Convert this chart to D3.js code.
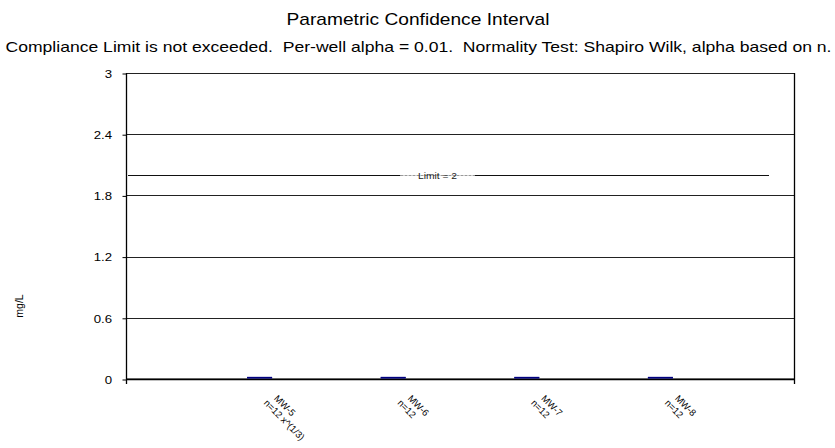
<!DOCTYPE html>
<html>
<head>
<meta charset="utf-8">
<script src="https://cdn.jsdelivr.net/npm/d3@7/dist/d3.min.js"></script>
<style>
  html, body { margin: 0; padding: 0; background: #fff; }
  svg { display: block; font-family: "Liberation Sans", Arial, sans-serif; }
</style>
</head>
<body>
<svg id="chart" width="835" height="448"></svg>
<script>
// ---- data ----
const titleText = "Parametric Confidence Interval";
const subtitleText = "Compliance Limit is not exceeded.  Per-well alpha = 0.01.  Normality Test: Shapiro Wilk, alpha based on n.";
const yAxisTitle = "mg/L";
const wells = ["MW-5", "MW-6", "MW-7", "MW-8"];
const wellNotes = ["n=12 x^(1/3)", "n=12", "n=12", "n=12"];
const wellPositions = [1, 2, 3, 4];
const upperLimits = [0.01, 0.01, 0.01, 0.01];
const lowerLimits = [0.006, 0.006, 0.006, 0.006];
const yTicks = [0, 0.6, 1.2, 1.8, 2.4, 3];
const limitValue = 2;
const limitLabel = "Limit = 2";

(function () {
// ---- layout ----
const svg = d3.select("#chart");
const pLeft = 126, pRight = 794, pTop = 73, pBottom = 379;
const x = d3.scaleLinear().domain([0, 5]).range([pLeft, pRight]);
const y = d3.scaleLinear().domain([0, 3]).range([pBottom, pTop]);
const stretch = 1.12;

// titles
svg.append("text")
  .attr("x", 418).attr("y", 25)
  .attr("text-anchor", "middle")
  .attr("font-size", 17)
  .attr("textLength", 263).attr("lengthAdjust", "spacingAndGlyphs")
  .text(titleText);
svg.append("text")
  .attr("x", 418.5).attr("y", 52)
  .attr("text-anchor", "middle")
  .attr("font-size", 15)
  .style("white-space", "pre")
  .attr("textLength", 826).attr("lengthAdjust", "spacingAndGlyphs")
  .text(subtitleText);

// gridlines
svg.append("g").selectAll("line")
  .data(yTicks)
  .join("line")
  .attr("x1", pLeft).attr("x2", pRight)
  .attr("y1", d => Math.round(y(d)) + 0.5 - (d === 0 ? 1 : 0))
  .attr("y2", d => Math.round(y(d)) + 0.5 - (d === 0 ? 1 : 0))
  .attr("stroke", d => d === 0 ? "#888" : "#222")
  .attr("stroke-width", 1);

// y axis
const yAxis = d3.axisLeft(y)
  .tickValues(yTicks)
  .tickSize(4)
  .tickPadding(10)
  .tickFormat(d => String(+d.toFixed(1)));
const gy = svg.append("g")
  .attr("transform", `translate(${pLeft + 0.5},0.5)`)
  .call(yAxis);
gy.select(".domain").remove();
gy.selectAll(".tick line").attr("stroke", "#000");
gy.selectAll(".tick text")
  .attr("font-size", 11.8)
  .attr("font-family", "Liberation Sans, Arial, sans-serif")
  .attr("fill", "#000")
  .attr("x", -14.5 / stretch)
  .attr("transform", `scale(${stretch},1)`);

// axis frame lines
svg.append("line")
  .attr("x1", pLeft + 0.5).attr("x2", pLeft + 0.5)
  .attr("y1", pTop).attr("y2", pBottom + 5)
  .attr("stroke", "#000").attr("stroke-width", 1.3);
svg.append("line")
  .attr("x1", pRight + 0.5).attr("x2", pRight + 0.5)
  .attr("y1", pTop).attr("y2", pBottom + 5)
  .attr("stroke", "#000").attr("stroke-width", 1.3);
svg.append("line")
  .attr("x1", pLeft).attr("x2", pRight + 1)
  .attr("y1", pBottom + 0.5).attr("y2", pBottom + 0.5)
  .attr("stroke", "#000").attr("stroke-width", 1.5);

// y axis title
svg.append("text")
  .attr("transform", `translate(23,306) rotate(-90)`)
  .attr("text-anchor", "middle")
  .attr("font-size", 10.5)
  .text(yAxisTitle);

// limit line with label
const limY = Math.round(y(limitValue)) + 0.5;
const labelX = 437.5, gapHalf = 37;
svg.append("line")
  .attr("x1", 128).attr("x2", labelX - gapHalf)
  .attr("y1", limY).attr("y2", limY)
  .attr("stroke", "#111").attr("stroke-width", 1);
svg.append("line")
  .attr("x1", labelX + gapHalf).attr("x2", 769)
  .attr("y1", limY).attr("y2", limY)
  .attr("stroke", "#111").attr("stroke-width", 1);
svg.append("line")
  .attr("x1", labelX - gapHalf).attr("x2", labelX + gapHalf)
  .attr("y1", limY).attr("y2", limY)
  .attr("stroke", "#999").attr("stroke-width", 1)
  .attr("stroke-dasharray", "3,1");
svg.append("text")
  .attr("x", labelX).attr("y", limY + 3.5)
  .attr("text-anchor", "middle")
  .attr("font-size", 9.5)
  .attr("textLength", 39).attr("lengthAdjust", "spacingAndGlyphs")
  .attr("fill", "#222")
  .text(limitLabel);

// confidence interval marks
const halfW = 12.5;
const marks = svg.append("g");
wellPositions.forEach((p, i) => {
  [upperLimits[i], lowerLimits[i]].forEach(v => {
    marks.append("line")
      .attr("x1", x(p) - halfW).attr("x2", x(p) + halfW)
      .attr("y1", y(v) - 0.5).attr("y2", y(v) - 0.5)
      .attr("stroke", "#000080").attr("stroke-width", 1.3);
  });
});

// category labels (rotated)
const cl = svg.append("g");
wellPositions.forEach((p, i) => {
  const g = cl.append("g")
    .attr("transform", `translate(${x(p) + 14},399) rotate(45)`);
  g.append("text").attr("x", 0).attr("y", 0)
    .attr("font-size", 9.5).text(wells[i]);
  g.append("text").attr("x", -4).attr("y", 10.5)
    .attr("font-size", 9.5).text(wellNotes[i]);
});
})();
</script>
</body>
</html>
